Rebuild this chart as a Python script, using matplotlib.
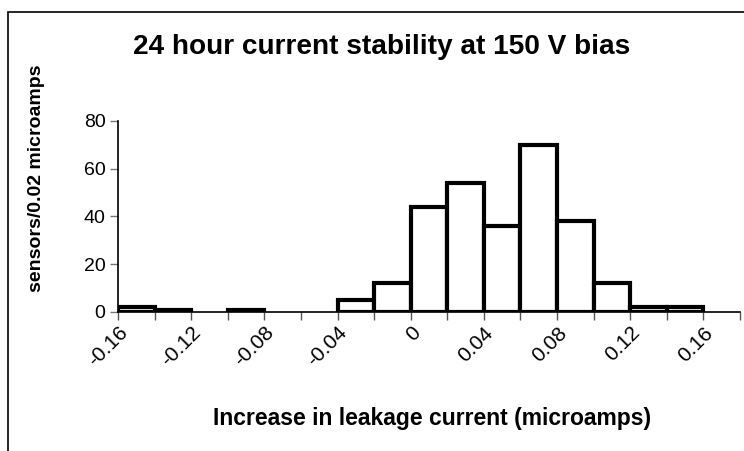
import numpy as np
import matplotlib
matplotlib.use('Agg')
import matplotlib.pyplot as plt
from matplotlib.patches import Rectangle

plt.rcParams['font.family'] = ['Liberation Sans', 'DejaVu Sans']

# ---- data (bin width 0.02 microamps) ----
bin_left = [-0.16, -0.14, -0.12, -0.10, -0.08, -0.06, -0.04, -0.02,
            0.00, 0.02, 0.04, 0.06, 0.08, 0.10, 0.12, 0.14, 0.16]
counts = [2, 1, 0, 1, 0, 0, 5, 12, 44, 54, 36, 70, 38, 12, 2, 2, 0]
tick_values = [-0.16, -0.12, -0.08, -0.04, 0, 0.04, 0.08, 0.12, 0.16]
tick_labels = ['-0.16', '-0.12', '-0.08', '-0.04', '0', '0.04', '0.08', '0.12', '0.16']
y_ticks = [0, 20, 40, 60, 80]

fig = plt.figure(figsize=(7.44, 4.51), dpi=100)
ax = fig.add_axes([118/744, 1 - 312/451, 622/744, 191.3/451])

# outer chart border (Excel chart area), right/bottom edges fall off the image
fig.patches.append(Rectangle((8/744, -0.1), 1.2, 1.1 - 12/451, transform=fig.transFigure,
                             fill=False, edgecolor='black', linewidth=1.2))

for x0, c in zip(bin_left, counts):
    if c > 0:
        ax.bar(x0, c, width=0.02, align='edge', color='white',
               edgecolor='black', linewidth=3)

ax.set_xlim(-0.16, 0.18)
ax.set_ylim(0, 80)
ax.set_xticks(tick_values)
ax.set_xticklabels(tick_labels, rotation=45, ha='right',
                   rotation_mode='anchor', fontsize=15)
ax.set_xticks(np.arange(-0.16, 0.1801, 0.02), minor=True)
ax.tick_params(axis='x', which='both', length=6, width=1, color='#555555', pad=2)
ax.set_yticks(y_ticks)
ax.tick_params(axis='y', length=6, width=1, color='#777777', labelsize=14, pad=3)

ax.spines['top'].set_visible(False)
ax.spines['right'].set_visible(False)
ax.spines['left'].set_linewidth(1.2)
ax.spines['bottom'].set_linewidth(1.2)

fig.text(382/744, 1 - 47/451, '24 hour current stability at 150 V bias',
         fontsize=20.2, fontweight='bold', ha='center', va='center')

ax.set_xlabel('Increase in leakage current (microamps)', fontsize=16.5,
              fontweight='bold')
ax.xaxis.set_label_coords((432 - 118) / 622, (312 - 418) / 191.3)
ax.xaxis.label.set_va('center')
ax.set_ylabel('sensors/0.02 microamps', fontsize=14, fontweight='bold')
ax.yaxis.set_label_coords((37 - 118) / 622, (312 - 178) / 191.3)
ax.yaxis.label.set_va('center')

fig.savefig('out.png', dpi=100)
